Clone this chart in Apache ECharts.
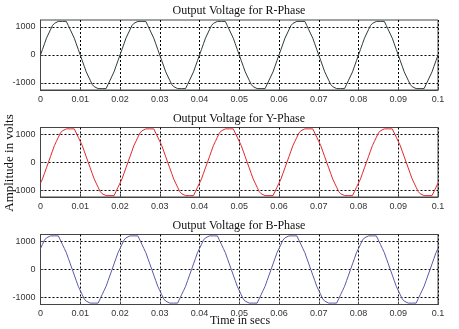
<!DOCTYPE html>
<html><head><meta charset="utf-8">
<script src="https://cdn.jsdelivr.net/npm/echarts@6/dist/echarts.min.js"></script>
<style>html,body{margin:0;padding:0;background:#fff}#c{width:459px;height:329px}</style>
</head><body><div id="c"></div>
<script>
const timeSec = [
0,0.0005,0.001,0.0015,0.002,0.0025,0.003,0.0035,0.004,0.0045,0.005,0.0055,0.006,0.0065,0.007,0.0075,0.008,0.0085,0.009,0.0095,
0.01,0.0105,0.011,0.0115,0.012,0.0125,0.013,0.0135,0.014,0.0145,0.015,0.0155,0.016,0.0165,0.017,0.0175,0.018,0.0185,0.019,0.0195,
0.02,0.0205,0.021,0.0215,0.022,0.0225,0.023,0.0235,0.024,0.0245,0.025,0.0255,0.026,0.0265,0.027,0.0275,0.028,0.0285,0.029,0.0295,
0.03,0.0305,0.031,0.0315,0.032,0.0325,0.033,0.0335,0.034,0.0345,0.035,0.0355,0.036,0.0365,0.037,0.0375,0.038,0.0385,0.039,0.0395,
0.04,0.0405,0.041,0.0415,0.042,0.0425,0.043,0.0435,0.044,0.0445,0.045,0.0455,0.046,0.0465,0.047,0.0475,0.048,0.0485,0.049,0.0495,
0.05,0.0505,0.051,0.0515,0.052,0.0525,0.053,0.0535,0.054,0.0545,0.055,0.0555,0.056,0.0565,0.057,0.0575,0.058,0.0585,0.059,0.0595,
0.06,0.0605,0.061,0.0615,0.062,0.0625,0.063,0.0635,0.064,0.0645,0.065,0.0655,0.066,0.0665,0.067,0.0675,0.068,0.0685,0.069,0.0695,
0.07,0.0705,0.071,0.0715,0.072,0.0725,0.073,0.0735,0.074,0.0745,0.075,0.0755,0.076,0.0765,0.077,0.0775,0.078,0.0785,0.079,0.0795,
0.08,0.0805,0.081,0.0815,0.082,0.0825,0.083,0.0835,0.084,0.0845,0.085,0.0855,0.086,0.0865,0.087,0.0875,0.088,0.0885,0.089,0.0895,
0.09,0.0905,0.091,0.0915,0.092,0.0925,0.093,0.0935,0.094,0.0945,0.095,0.0955,0.096,0.0965,0.097,0.0975,0.098,0.0985,0.099,0.0995,
0.1];

const rPhase = [
0,200,400,600,750,900,1050,1130,1200,1130,1200,1130,1200,1130,1050,900,750,600,400,200,0,-200,-400,-600,-750,-900,-1050,-1130,-1200,-1130,-1200,-1130,-1200,-1130,-1050,-900,-750,-600,-400,-200,
0,200,400,600,750,900,1050,1130,1200,1130,1200,1130,1200,1130,1050,900,750,600,400,200,0,-200,-400,-600,-750,-900,-1050,-1130,-1200,-1130,-1200,-1130,-1200,-1130,-1050,-900,-750,-600,-400,-200,
0,200,400,600,750,900,1050,1130,1200,1130,1200,1130,1200,1130,1050,900,750,600,400,200,0,-200,-400,-600,-750,-900,-1050,-1130,-1200,-1130,-1200,-1130,-1200,-1130,-1050,-900,-750,-600,-400,-200,
0,200,400,600,750,900,1050,1130,1200,1130,1200,1130,1200,1130,1050,900,750,600,400,200,0,-200,-400,-600,-750,-900,-1050,-1130,-1200,-1130,-1200,-1130,-1200,-1130,-1050,-900,-750,-600,-400,-200,
0,200,400,600,750,900,1050,1130,1200,1130,1200,1130,1200,1130,1050,900,750,600,400,200,0,-200,-400,-600,-750,-900,-1050,-1130,-1200,-1130,-1200,-1130,-1200,-1130,-1050,-900,-750,-600,-400,-200,
0];

const yPhase = [
-750,-600,-400,-200,0,200,400,600,750,900,1050,1130,1200,1130,1200,1130,1200,1130,1050,900,750,600,400,200,0,-200,-400,-600,-750,-900,-1050,-1130,-1200,-1130,-1200,-1130,-1200,-1130,-1050,-900,
-750,-600,-400,-200,0,200,400,600,750,900,1050,1130,1200,1130,1200,1130,1200,1130,1050,900,750,600,400,200,0,-200,-400,-600,-750,-900,-1050,-1130,-1200,-1130,-1200,-1130,-1200,-1130,-1050,-900,
-750,-600,-400,-200,0,200,400,600,750,900,1050,1130,1200,1130,1200,1130,1200,1130,1050,900,750,600,400,200,0,-200,-400,-600,-750,-900,-1050,-1130,-1200,-1130,-1200,-1130,-1200,-1130,-1050,-900,
-750,-600,-400,-200,0,200,400,600,750,900,1050,1130,1200,1130,1200,1130,1200,1130,1050,900,750,600,400,200,0,-200,-400,-600,-750,-900,-1050,-1130,-1200,-1130,-1200,-1130,-1200,-1130,-1050,-900,
-750,-600,-400,-200,0,200,400,600,750,900,1050,1130,1200,1130,1200,1130,1200,1130,1050,900,750,600,400,200,0,-200,-400,-600,-750,-900,-1050,-1130,-1200,-1130,-1200,-1130,-1200,-1130,-1050,-900,
-750];

const bPhase = [
750,900,1050,1130,1200,1130,1200,1130,1200,1130,1050,900,750,600,400,200,0,-200,-400,-600,-750,-900,-1050,-1130,-1200,-1130,-1200,-1130,-1200,-1130,-1050,-900,-750,-600,-400,-200,0,200,400,600,
750,900,1050,1130,1200,1130,1200,1130,1200,1130,1050,900,750,600,400,200,0,-200,-400,-600,-750,-900,-1050,-1130,-1200,-1130,-1200,-1130,-1200,-1130,-1050,-900,-750,-600,-400,-200,0,200,400,600,
750,900,1050,1130,1200,1130,1200,1130,1200,1130,1050,900,750,600,400,200,0,-200,-400,-600,-750,-900,-1050,-1130,-1200,-1130,-1200,-1130,-1200,-1130,-1050,-900,-750,-600,-400,-200,0,200,400,600,
750,900,1050,1130,1200,1130,1200,1130,1200,1130,1050,900,750,600,400,200,0,-200,-400,-600,-750,-900,-1050,-1130,-1200,-1130,-1200,-1130,-1200,-1130,-1050,-900,-750,-600,-400,-200,0,200,400,600,
750,900,1050,1130,1200,1130,1200,1130,1200,1130,1050,900,750,600,400,200,0,-200,-400,-600,-750,-900,-1050,-1130,-1200,-1130,-1200,-1130,-1200,-1130,-1050,-900,-750,-600,-400,-200,0,200,400,600,
750];

const titles = ['Output Voltage for R-Phase','Output Voltage for Y-Phase','Output Voltage for B-Phase'];
const yTickValues = [-1000, 0, 1000];
const yLabel = 'Amplitude in volts';
const xLabel = 'Time in secs';
const phases = [rPhase, yPhase, bPhase];
const colors = ['#2c3d33','#e3262b','#5a58a6'];
const gridTops = [20, 127.5, 234.5];
const gridH = [70, 69.5, 70];

const chart = echarts.init(document.getElementById('c'), null, {renderer:'canvas'});
const axisColor = '#444';
const labelStyle = {fontSize:9, fontFamily:'Liberation Sans, Arial, sans-serif', color:'#333'};
const gridLine = {show:true, lineStyle:{color:'#000', type:[2,2], width:1}};
const serif = '"Liberation Serif", "Times New Roman", serif';

const option = {
  animation:false,
  grid: gridTops.map((t,i)=>({left:40.5, right:21, top:t, height:gridH[i], show:true, borderColor:axisColor, borderWidth:1})),
  xAxis: gridTops.map((t,i)=>({
    type:'value', gridIndex:i, min:0, max:0.1, interval:0.01,
    axisLine:{show:true, onZero:false, lineStyle:{color:axisColor}},
    axisTick:{show:true, inside:true, length:3, lineStyle:{color:axisColor}},
    axisLabel:Object.assign({margin:5, formatter:v=>String(+v.toFixed(2))}, labelStyle),
    splitLine:gridLine
  })),
  yAxis: gridTops.map((t,i)=>({
    type:'value', gridIndex:i, min:-1250, max:1250,
    axisLine:{show:true, lineStyle:{color:axisColor}},
    axisTick:{show:true, inside:true, length:3, customValues:yTickValues, lineStyle:{color:axisColor}},
    axisLabel:Object.assign({margin:5, customValues:yTickValues, formatter:v=>String(v)}, labelStyle),
    splitLine:gridLine
  })),
  series: phases.map((vals,i)=>({
    type:'line', xAxisIndex:i, yAxisIndex:i, step:'end', showSymbol:false,
    lineStyle:{color:colors[i], width:1}, itemStyle:{color:colors[i]},
    data: timeSec.map((t,j)=>[t, vals[j]])
  })),
  graphic: [
    ...titles.map((s,i)=>({type:'text', x:239, y:gridTops[i]-9, style:{text:s, font:'12px '+serif, fill:'#111', align:'center', verticalAlign:'middle'}})),
    {type:'text', x:10, y:163, rotation:Math.PI/2, style:{text:yLabel, font:'13px '+serif, fill:'#111', align:'center', verticalAlign:'middle'}},
    {type:'text', x:240, y:321, style:{text:xLabel, font:'12px '+serif, fill:'#111', align:'center', verticalAlign:'middle'}}
  ]
};
chart.setOption(option);
</script></body></html>
